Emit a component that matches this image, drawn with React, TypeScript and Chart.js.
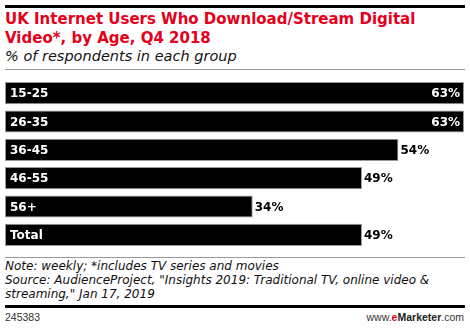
import React, { useEffect, useRef } from "react";
import { Chart, registerables } from "chart.js";

Chart.register(...registerables);

const categories: string[] = ["15-25", "26-35", "36-45", "46-55", "56+", "Total"];
const values: number[] = [63, 63, 54, 49, 34, 49];
const valueLabels: string[] = ["63%", "63%", "54%", "49%", "34%", "49%"];

const FONT = "'DejaVu Sans', Verdana, sans-serif";

const labelPlugin = {
  id: "barLabels",
  afterDatasetsDraw(chart: any) {
    const ctx = chart.ctx;
    const meta = chart.getDatasetMeta(0);
    const area = chart.chartArea;
    ctx.save();
    ctx.font = `bold 12px ${FONT}`;
    ctx.textBaseline = "middle";
    meta.data.forEach((bar: any, i: number) => {
      const y = bar.y + 1;
      ctx.fillStyle = "#ffffff";
      ctx.textAlign = "left";
      ctx.fillText(categories[i], area.left + 5, y);
      const txt = valueLabels[i];
      const w = ctx.measureText(txt).width;
      if (bar.x + w + 6 > chart.width) {
        ctx.textAlign = "right";
        ctx.fillStyle = "#ffffff";
        ctx.fillText(txt, bar.x - 4, y);
      } else {
        ctx.textAlign = "left";
        ctx.fillStyle = "#000000";
        ctx.fillText(txt, bar.x + 2, y);
      }
    });
    ctx.restore();
  },
};

export default function App() {
  const ref = useRef<HTMLCanvasElement | null>(null);

  useEffect(() => {
    document.body.style.margin = "0";
    const canvas = ref.current;
    if (!canvas) return;
    const chart = new Chart(canvas, {
      type: "bar",
      data: {
        labels: categories,
        datasets: [
          {
            data: values,
            backgroundColor: "#000000",
            borderColor: "#9a9a9a",
            borderWidth: 1,
            borderSkipped: false,
            categoryPercentage: 1,
            barPercentage: 0.78,
          },
        ],
      },
      options: {
        indexAxis: "y",
        animation: false,
        responsive: false,
        maintainAspectRatio: false,
        devicePixelRatio: 1,
        layout: { padding: { left: 5, right: 6, top: 0, bottom: 0 } },
        plugins: {
          legend: { display: false },
          tooltip: { enabled: false },
          title: { display: false },
        },
        scales: {
          x: { display: false, min: 0, max: 63 },
          y: { display: false },
        },
      },
      plugins: [labelPlugin],
    });
    return () => chart.destroy();
  }, []);

  return (
    <div
      style={{
        position: "relative",
        width: 470,
        height: 328,
        background: "#fff",
        overflow: "hidden",
        fontFamily: FONT,
      }}
    >
      <div style={{ position: "absolute", left: 5, top: 5, width: 460, height: 2.5, background: "#000" }} />
      <div
        style={{
          position: "absolute",
          left: 5,
          top: 10,
          width: 455,
          color: "#e4001b",
          fontWeight: 700,
          fontSize: 15,
          lineHeight: "19px",
          letterSpacing: 0,
        }}
      >
        UK Internet Users Who Download/Stream Digital Video*, by Age, Q4 2018
      </div>
      <div
        style={{
          position: "absolute",
          left: 5,
          top: 47,
          color: "#111",
          fontStyle: "italic",
          fontSize: 14.5,
          lineHeight: "18px",
          letterSpacing: 0,
        }}
      >
        % of respondents in each group
      </div>
      <div style={{ position: "absolute", left: 5, top: 69, width: 460, height: 1, background: "#999" }} />
      <canvas
        ref={ref}
        width={470}
        height={170}
        style={{ position: "absolute", left: 0, top: 79, width: 470, height: 170 }}
      />
      <div style={{ position: "absolute", left: 5, top: 257, width: 460, height: 1, background: "#999" }} />
      <div
        style={{
          position: "absolute",
          left: 5,
          top: 259,
          width: 455,
          color: "#111",
          fontStyle: "italic",
          fontSize: 12,
          lineHeight: "14px",
          letterSpacing: 0,
        }}
      >
        Note: weekly; *includes TV series and movies
        <br />
        Source: AudienceProject, "Insights 2019: Traditional TV, online video &amp; streaming," Jan 17, 2019
      </div>
      <div style={{ position: "absolute", left: 5, top: 305, width: 460, height: 3, background: "#000" }} />
      <div
        style={{
          position: "absolute",
          left: 5,
          top: 311,
          fontSize: 10.5,
          color: "#333",
          fontFamily: "'Liberation Sans', Arial, sans-serif",
        }}
      >
        245383
      </div>
      <div
        style={{
          position: "absolute",
          right: 6,
          top: 311,
          fontSize: 10.5,
          color: "#333",
          fontFamily: "'Liberation Sans', Arial, sans-serif",
        }}
      >
        www.<span style={{ color: "#e4001b", fontWeight: 700 }}>e</span>
        <span style={{ fontWeight: 700, color: "#222" }}>Marketer</span>.com
      </div>
    </div>
  );
}
